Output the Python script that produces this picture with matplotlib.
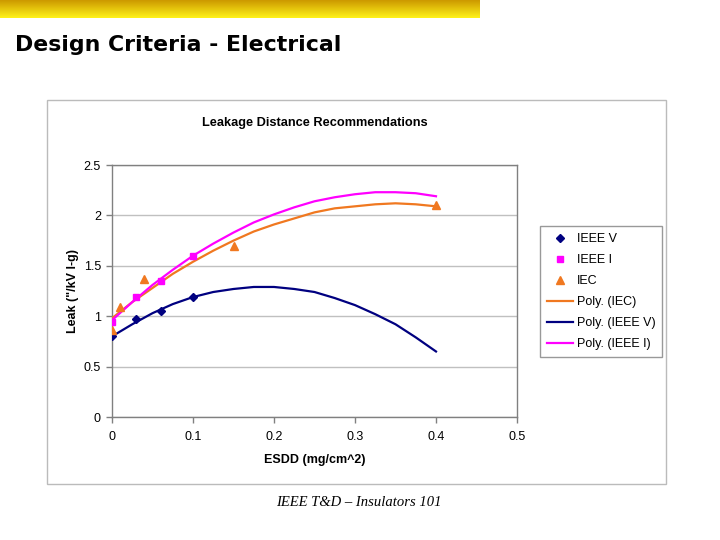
import numpy as np
import matplotlib.pyplot as plt
from matplotlib.patches import Rectangle

# measured points
esdd_ieee = [0.0, 0.03, 0.06, 0.1]
leak_ieee_v = [0.80, 0.97, 1.05, 1.19]
leak_ieee_i = [0.94, 1.19, 1.35, 1.60]
esdd_iec = [0.0, 0.01, 0.04, 0.15, 0.4]
leak_iec = [0.86, 1.09, 1.37, 1.70, 2.10]

# trendlines
trend_x = [0.0, 0.025, 0.05, 0.075, 0.1, 0.125, 0.15, 0.175, 0.2,
           0.225, 0.25, 0.275, 0.3, 0.325, 0.35, 0.375, 0.4]
trend_iec = [0.98, 1.14, 1.28, 1.42, 1.54, 1.65, 1.75, 1.84, 1.91,
             1.97, 2.03, 2.07, 2.09, 2.11, 2.12, 2.11, 2.09]
trend_ieee_v = [0.80, 0.92, 1.03, 1.12, 1.19, 1.24, 1.27, 1.29, 1.29,
                1.27, 1.24, 1.18, 1.11, 1.02, 0.92, 0.79, 0.65]
trend_ieee_i = [0.96, 1.14, 1.31, 1.46, 1.60, 1.72, 1.83, 1.93, 2.01,
                2.08, 2.14, 2.18, 2.21, 2.23, 2.23, 2.22, 2.19]

navy = '#000080'
magenta = '#FF00FF'
orange = '#F07820'

plt.rcParams['font.family'] = ['Liberation Sans', 'DejaVu Sans']

fig = plt.figure(figsize=(7.2, 5.4), dpi=100)

# yellow header bar
hdr = fig.add_axes([0, 1 - 18 / 540, 480 / 720, 18 / 540])
grad = np.linspace(0, 1, 50)[:, None]
top = np.array([0.80, 0.60, 0.0])
bot = np.array([1.0, 0.95, 0.10])
img = top + grad[:, :, None] * (bot - top)
hdr.imshow(img, aspect='auto', extent=[0, 1, 0, 1])
hdr.axis('off')

fig.text(15 / 720, 1 - 45 / 540, 'Design Criteria - Electrical', fontsize=15.8,
         fontweight='bold', family='DejaVu Sans', va='center', ha='left')

# chart area frame
fig.patches.append(Rectangle((47 / 720, 1 - 484 / 540), 619 / 720, 384 / 540,
                             transform=fig.transFigure, fill=False,
                             edgecolor='#BBBBBB', linewidth=1))

ax = fig.add_axes([112 / 720, 1 - 417 / 540, 405 / 720, 252 / 540])
ax.plot(esdd_ieee, leak_ieee_v, 'D', color=navy, markersize=4, label='IEEE V', zorder=4)
ax.plot(esdd_ieee, leak_ieee_i, 's', color=magenta, markersize=4.5, label='IEEE I', zorder=5)
ax.plot(esdd_iec, leak_iec, '^', color=orange, markersize=5.5, label='IEC', zorder=4)
ax.plot(trend_x, trend_iec, '-', color=orange, linewidth=1.6, label='Poly. (IEC)', zorder=3)
ax.plot(trend_x, trend_ieee_v, '-', color=navy, linewidth=1.6, label='Poly. (IEEE V)', zorder=3)
ax.plot(trend_x, trend_ieee_i, '-', color=magenta, linewidth=1.6, label='Poly. (IEEE I)', zorder=3)

ax.set_xlim(0, 0.5)
ax.set_ylim(0, 2.5)
ax.set_xticks([0, 0.1, 0.2, 0.3, 0.4, 0.5])
ax.set_xticklabels(['0', '0.1', '0.2', '0.3', '0.4', '0.5'])
ax.set_yticks([0, 0.5, 1, 1.5, 2, 2.5])
ax.set_yticklabels(['0', '0.5', '1', '1.5', '2', '2.5'])
ax.grid(axis='y', color='#C0C0C0', linewidth=1)
ax.set_axisbelow(True)
for s in ax.spines.values():
    s.set_color('#808080')
    s.set_linewidth(1)
ax.tick_params(colors='#808080', labelcolor='black', labelsize=9, length=4, width=1)
ax.tick_params(axis='x', pad=6)
ax.tick_params(axis='y', pad=4)

ax.set_xlabel('ESDD (mg/cm^2)', fontsize=9, fontweight='bold', labelpad=8)
ax.set_ylabel('Leak ("/kV l-g)', fontsize=9, fontweight='bold', labelpad=3)
ax.set_title('Leakage Distance Recommendations', fontsize=9.2, fontweight='bold', pad=28)

leg = ax.legend(loc='upper left', bbox_to_anchor=(540 / 720, 1 - 226 / 540),
                bbox_transform=fig.transFigure, fontsize=9, frameon=True,
                fancybox=False, edgecolor='#808080', borderpad=0.55,
                labelspacing=0.72, handlelength=2.1, handletextpad=0.3,
                borderaxespad=0)
leg.get_frame().set_linewidth(1)

fig.text(359 / 720, 1 - 503 / 540, 'IEEE T&D \u2013 Insulators 101', fontsize=10.5,
         family='Liberation Serif', style='italic', ha='center', va='center')

fig.savefig('out.png', dpi=100)
